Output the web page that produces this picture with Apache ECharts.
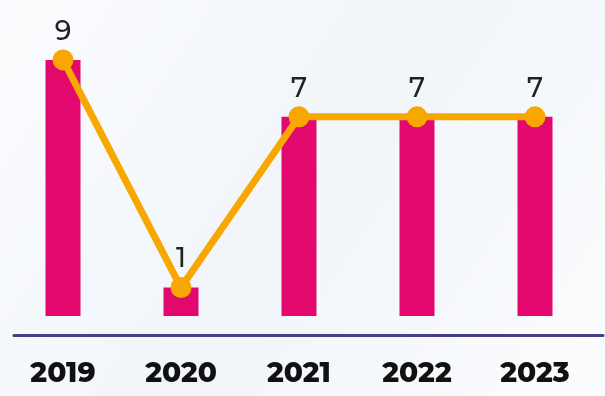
<!DOCTYPE html>
<html><head><meta charset="utf-8">
<script src="https://cdn.jsdelivr.net/npm/echarts@6/dist/echarts.min.js"></script>
<style>html,body{margin:0;padding:0;background:#f7f9fc;}#c{width:605px;height:396px;}</style>
</head><body><div id="c"></div>
<script>
const years = ['2019','2020','2021','2022','2023'];
const barValues = [9, 1, 7, 7, 7];
const lineValues = [9, 1, 7, 7, 7];

const chart = echarts.init(document.getElementById('c'));
chart.setOption({
  backgroundColor: {type:'linear',x:0,y:0,x2:1,y2:1,colorStops:[{offset:0,color:'#fbfcfe'},{offset:0.5,color:'#f1f5fa'},{offset:1,color:'#fbfcfd'}]},
  animation:false,
  grid:[{left:4, right:11, top:3, bottom:80},{left:14, right:2, top:3, bottom:61}],
  xAxis:[
    {type:'category', gridIndex:0, data:years, axisLine:{show:false}, axisTick:{show:false}, axisLabel:{show:false}},
    {type:'category', gridIndex:0, data:years, position:'bottom', offset:19,
     axisLine:{show:false}, axisTick:{show:false},
     axisLabel:{margin:25, fontFamily:'Montserrat, "Open Sans", Lato, sans-serif', fontWeight:800, fontSize:28, color:'#111'}},
    {type:'category', gridIndex:1, data:years, position:'bottom',
     axisLine:{show:true, lineStyle:{color:'#4a3c86', width:3}}, axisTick:{show:false}, axisLabel:{show:false}}
  ],
  yAxis:[
    {type:'value', gridIndex:0, min:0, max:11, show:false, splitLine:{show:false}},
    {type:'value', gridIndex:1, min:0, max:11, show:false, splitLine:{show:false}}
  ],
  series:[
    {type:'bar', xAxisIndex:0, yAxisIndex:0, data:barValues, barWidth:35, itemStyle:{color:'#e2086e'}, z:1},
    {type:'line', xAxisIndex:0, yAxisIndex:0, data:lineValues, symbol:'circle', symbolSize:21,
     lineStyle:{color:'#f7a700', width:7}, itemStyle:{color:'#f7a700'}, z:3,
     label:{show:true, position:'top', distance:4, fontFamily:'Montserrat, "Open Sans", Lato, sans-serif', fontWeight:500, fontSize:27, color:'#222'}}
  ]
});
</script></body></html>
